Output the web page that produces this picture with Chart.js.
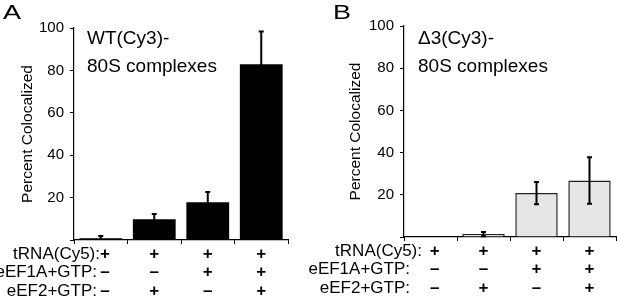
<!DOCTYPE html>
<html>
<head>
<meta charset="utf-8">
<script src="https://cdn.jsdelivr.net/npm/chart.js@4.4.1/dist/chart.umd.min.js"></script>
<style>
body { margin: 0; background: #fff; width: 617px; height: 297px; overflow: hidden; position: relative; }
canvas { position: absolute; top: 0; }
#chartA { left: 0; }
#chartB { left: 308px; }
</style>
</head>
<body>
<canvas id="chartA" width="308" height="297"></canvas>
<canvas id="chartB" width="309" height="297"></canvas>
<script>
// conditions under each bar
var rowHeaders = ['tRNA(Cy5):', 'eEF1A+GTP:', 'eEF2+GTP:'];
var trnaRow = ['+', '+', '+', '+'];
var eef1aRow = ['-', '-', '+', '+'];
var eef2Row = ['-', '+', '-', '+'];

// percent colocalized
var wtValues = [0.8, 9.8, 17.8, 82.9];
var wtErrors = [1.1, 2.5, 4.8, 15.4];
var d3Values = [0, 1.4, 20.8, 26.8];
var d3Errors = [0, 1.0, 5.3, 11.0];

var yMin = 0, yMax = 100, yStep = 20;

var FONT = '"Liberation Sans", Arial, sans-serif';

var labels = trnaRow.map(function (t, i) {
    return [t, eef1aRow[i], eef2Row[i]];
});

var errorBars = {
    id: 'errorBars',
    afterDatasetsDraw: function (chart, args, opts) {
        var ctx = chart.ctx;
        var y = chart.scales.y;
        var meta = chart.getDatasetMeta(0);
        var values = chart.data.datasets[0].data;
        ctx.save();
        ctx.strokeStyle = '#000';
        ctx.lineWidth = 2;
        meta.data.forEach(function (bar, i) {
            var err = opts.errors[i];
            if (!err) return;
            var top = y.getPixelForValue(values[i] + err);
            var bot = y.getPixelForValue(Math.max(0, values[i] - err));
            ctx.beginPath();
            ctx.moveTo(bar.x, top);
            ctx.lineTo(bar.x, bot);
            ctx.moveTo(bar.x - 2.5, top);
            ctx.lineTo(bar.x + 2.5, top);
            if (values[i] - err > 0) {
                ctx.moveTo(bar.x - 2.5, bot);
                ctx.lineTo(bar.x + 2.5, bot);
            }
            ctx.stroke();
        });
        ctx.restore();
    }
};

var panelText = {
    id: 'panelText',
    afterDraw: function (chart, args, opts) {
        var ctx = chart.ctx;
        var area = chart.chartArea;
        ctx.save();
        ctx.fillStyle = '#000';
        ctx.textBaseline = 'middle';
        ctx.textAlign = 'left';
        // the panel letters are drawn a bit wide in the figure
        ctx.save();
        ctx.translate(opts.letterX, 13);
        ctx.scale(1.35, 1);
        ctx.font = '20px ' + FONT;
        ctx.fillText(opts.letter, 0, 0);
        ctx.restore();
        ctx.font = '19px ' + FONT;
        opts.title.forEach(function (line, i) {
            ctx.fillText(line, opts.titleX, 39 + i * 28);
        });
        ctx.textAlign = 'right';
        ctx.font = '17px ' + FONT;
        rowHeaders.forEach(function (h, i) {
            ctx.fillText(h, opts.headerX[i], area.bottom + 14 + i * 18.5);
        });
        ctx.restore();
    }
};

function signLabel(value, index) {
    var lines = labels[index].map(function (s) { return s === '-' ? '\u2013' : s; });
    if (index === 0) {
        lines = lines.map(function (s) { return '\u2002' + s; });
    }
    return lines;
}

function makeChart(id, values, errors, style) {
    return new Chart(document.getElementById(id), {
        type: 'bar',
        data: {
            labels: labels,
            datasets: [{
                data: values,
                backgroundColor: style.fill,
                borderColor: style.border,
                borderWidth: style.borderWidth,
                borderSkipped: 'bottom',
                barPercentage: 0.8,
                categoryPercentage: 1.0
            }]
        },
        plugins: [errorBars, panelText],
        options: {
            responsive: false,
            animation: false,
            layout: { padding: { left: 0, right: style.padRight, top: style.padTop, bottom: 0 } },
            plugins: {
                legend: { display: false },
                tooltip: { enabled: false },
                errorBars: { errors: errors },
                panelText: style.text
            },
            scales: {
                x: {
                    afterFit: function (scale) { scale.height = style.xHeight; },
                    grid: { drawOnChartArea: false, drawTicks: true, tickLength: 4, color: '#000', lineWidth: 1 },
                    border: { color: '#000', width: 1.2 },
                    ticks: {
                        color: '#000',
                        padding: 1,
                        maxRotation: 0,
                        autoSkip: false,
                        callback: signLabel,
                        font: { family: FONT, size: 17, weight: 'bold', lineHeight: 1.09 }
                    }
                },
                y: {
                    min: yMin,
                    max: yMax,
                    afterFit: function (scale) { scale.width = style.yWidth; },
                    grid: { drawOnChartArea: false, drawTicks: true, tickLength: 4, color: '#000', lineWidth: 1 },
                    border: { color: '#000', width: 1.2 },
                    ticks: {
                        stepSize: yStep,
                        color: '#000',
                        padding: 6,
                        font: { family: FONT, size: 15 },
                        callback: function (v) { return v === 0 ? '' : v; }
                    },
                    title: {
                        display: true,
                        text: 'Percent Colocalized',
                        color: '#000',
                        padding: { top: style.titlePad, bottom: 0 },
                        font: { family: FONT, size: 15.5 }
                    }
                }
            }
        }
    });
}

makeChart('chartA', wtValues, wtErrors, {
    fill: '#000', border: '#000', borderWidth: 0,
    padRight: 20, padTop: 28, xHeight: 57, yWidth: 74, titlePad: 18,
    text: { letter: 'A', letterX: 3, title: ['WT(Cy3)-', '80S complexes'], titleX: 87, headerX: [100, 97, 97] }
});

makeChart('chartB', d3Values, d3Errors, {
    fill: '#e6e6e6', border: '#222', borderWidth: 1.5,
    padRight: 1, padTop: 26, xHeight: 60, yWidth: 96, titlePad: 38,
    text: { letter: 'B', letterX: 25, title: ['\u03943(Cy3)-', '80S complexes'], titleX: 110, headerX: [114, 102, 102] }
});
</script>
</body>
</html>
